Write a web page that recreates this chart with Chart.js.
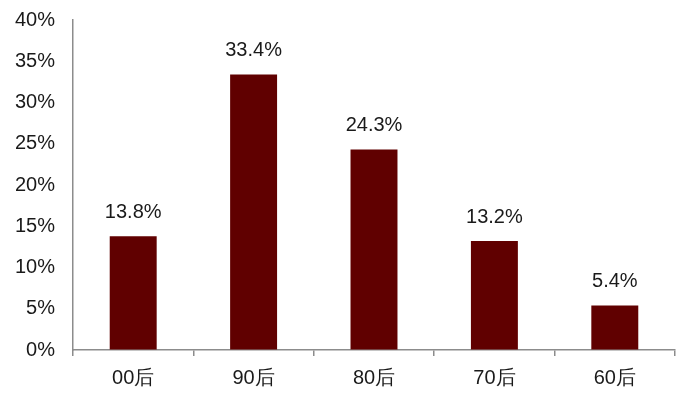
<!DOCTYPE html>
<html>
<head>
<meta charset="utf-8">
<script src="https://cdn.jsdelivr.net/npm/chart.js@4/dist/chart.umd.min.js"></script>
<style>
  html, body { margin: 0; padding: 0; background: #fff; }
  #wrap { width: 700px; height: 402px; }
</style>
</head>
<body>
<div id="wrap"><canvas id="ageChart"></canvas></div>
<script>
const categories = ['00后', '90后', '80后', '70后', '60后'];
const shares = [13.8, 33.4, 24.3, 13.2, 5.4];
const yTicks = [0, 5, 10, 15, 20, 25, 30, 35, 40];

const FONT = '"Liberation Sans", Arial, sans-serif';

// etiquetas sobre las barras
const barLabels = {
    id: 'barLabels',
    afterDatasetsDraw(chart) {
        const ctx = chart.ctx;
        const meta = chart.getDatasetMeta(0);
        ctx.save();
        ctx.font = '20px ' + FONT;
        ctx.fillStyle = '#1a1a1a';
        ctx.textAlign = 'center';
        ctx.textBaseline = 'bottom';
        meta.data.forEach((bar, i) => {
            ctx.fillText(shares[i].toFixed(1) + '%', bar.x, bar.y - 14);
        });
        ctx.restore();
    }
};

new Chart(document.getElementById('ageChart'), {
    type: 'bar',
    data: {
        labels: categories,
        datasets: [{
            data: shares,
            backgroundColor: '#600000',
            borderWidth: 0,
            barPercentage: 0.39,
            categoryPercentage: 1
        }]
    },
    options: {
        responsive: true,
        maintainAspectRatio: false,
        animation: false,
        layout: { padding: { top: 20, right: 25, left: 0, bottom: 0 } },
        plugins: {
            legend: { display: false },
            tooltip: { enabled: false }
        },
        scales: {
            x: {
                grid: {
                    offset: true,
                    drawOnChartArea: false,
                    drawTicks: true,
                    tickLength: 6,
                    color: '#8c8c8c',
                    lineWidth: 1.5
                },
                border: { color: '#8c8c8c', width: 1.5 },
                ticks: {
                    color: '#1a1a1a',
                    font: { family: FONT, size: 20 },
                    padding: 10
                },
                afterFit(scale) {
                    scale.height = 52;
                    scale.paddingLeft = 0;
                    scale.paddingRight = 0;
                }
            },
            y: {
                min: 0,
                max: 40,
                afterBuildTicks(scale) {
                    scale.ticks = yTicks.map(v => ({ value: v }));
                },
                grid: { display: true, drawOnChartArea: false, drawTicks: false },
                border: { color: '#8c8c8c', width: 1.5 },
                ticks: {
                    color: '#1a1a1a',
                    font: { family: FONT, size: 20 },
                    padding: 18,
                    callback: v => v + '%'
                },
                afterFit(scale) {
                    scale.width = 73;
                    scale.paddingTop = 0;
                    scale.paddingBottom = 0;
                }
            }
        }
    },
    plugins: [barLabels]
});
</script>
</body>
</html>
